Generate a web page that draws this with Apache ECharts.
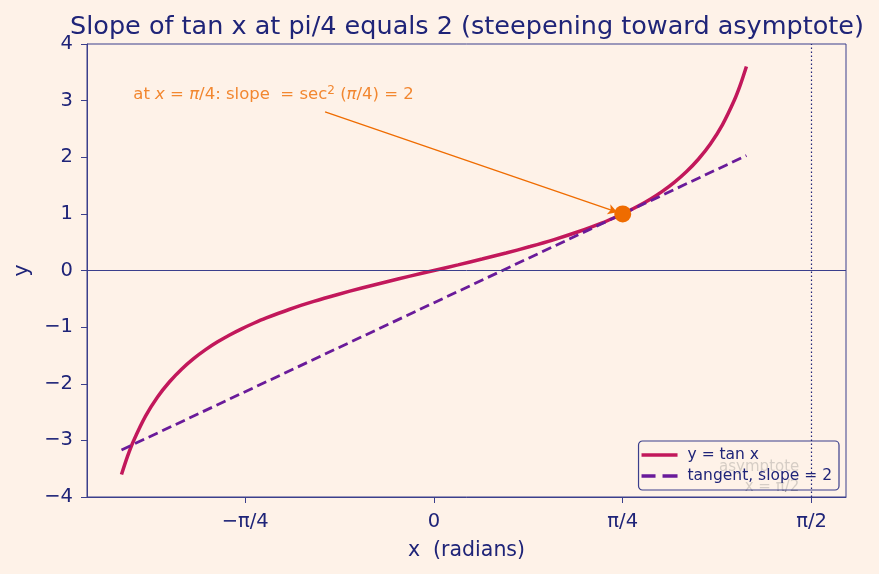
<!DOCTYPE html>
<html><head><meta charset="utf-8">
<script src="https://cdn.jsdelivr.net/npm/echarts@6/dist/echarts.min.js"></script>
<style>html,body{margin:0;padding:0;background:#fef2e8;}#c{width:879px;height:574px;}</style>
</head><body><div id="c"></div>
<script>
// tan x curve samples (x in radians, y = tan x)
const curveX = [-1.30,-1.275,-1.25,-1.20,-1.15,-1.10,-1.05,-1.00,-0.95,-0.90,-0.85,-0.80,-0.75,-0.70,-0.60,-0.50,-0.40,-0.30,-0.20,-0.10,0.00,0.10,0.20,0.30,0.40,0.50,0.60,0.70,0.75,0.80,0.85,0.90,0.95,1.00,1.05,1.10,1.15,1.20,1.25,1.275,1.30];
const curveY = [-3.602,-3.282,-3.010,-2.572,-2.234,-1.965,-1.743,-1.557,-1.398,-1.260,-1.138,-1.030,-0.932,-0.842,-0.684,-0.546,-0.423,-0.309,-0.203,-0.100,0.000,0.100,0.203,0.309,0.423,0.546,0.684,0.842,0.932,1.030,1.138,1.260,1.398,1.557,1.743,1.965,2.234,2.572,3.010,3.282,3.602];
// tangent line endpoints
const tangentX = [-1.30, 1.30];
const tangentY = [-3.170, 2.030];
// point of tangency
const pointX = [0.7854];
const pointY = [1.0];
// x tick values and labels
const xTickValues = [-0.7854, 0, 0.7854, 1.5708];
const xTickLabels = ['\u2212\u03c0/4', '0', '\u03c0/4', '\u03c0/2'];
const asymptoteX = 1.5708;

const navy = '#1f2478';
const axisCol = '#3b3f8c';
const font = 'DejaVu Sans';

const chart = echarts.init(document.getElementById('c'), null, {renderer:'canvas'});
const zip = (a,b) => a.map((v,i)=>[v,b[i]]);

chart.setOption({
  backgroundColor: '#fef2e8',
  animation: false,
  title: {
    text: 'Slope of tan x at pi/4 equals 2 (steepening toward asymptote)',
    left: 462, top: 9, textAlign: 'center',
    textStyle: {color: navy, fontFamily: font, fontSize: 25.5, fontWeight: 'normal'}
  },
  grid: {left: 87, right: 33, top: 44, bottom: 77, show: true, borderColor: axisCol, borderWidth: 1, backgroundColor: 'transparent'},
  xAxis: {
    type: 'value', min: -1.4435, max: 1.7143,
    name: 'x  (radians)', nameLocation: 'middle', nameGap: 43,
    nameTextStyle: {color: navy, fontFamily: font, fontSize: 20.5},
    axisLine: {show: true, onZero: false, lineStyle: {color: axisCol}},
    splitLine: {show: false},
    axisTick: {show: true, length: 6, customValues: xTickValues, lineStyle: {color: axisCol}},
    axisLabel: {customValues: xTickValues, color: navy, fontFamily: font, fontSize: 19.5, margin: 15,
      formatter: v => { const i = xTickValues.findIndex(t => Math.abs(t - v) < 1e-3); return i >= 0 ? xTickLabels[i] : ''; }}
  },
  yAxis: {
    type: 'value', min: -4, max: 4, interval: 1,
    name: 'y', nameLocation: 'middle', nameGap: 49,
    nameTextStyle: {color: navy, fontFamily: font, fontSize: 20.5},
    axisLine: {show: true, onZero: false, lineStyle: {color: axisCol}},
    splitLine: {show: false},
    axisTick: {show: true, length: 6, lineStyle: {color: axisCol}},
    axisLabel: {color: navy, fontFamily: font, fontSize: 19.5, margin: 14,
      formatter: v => (v < 0 ? '\u2212' + Math.abs(v) : String(v))}
  },
  legend: {
    orient: 'vertical', right: 40, bottom: 84,
    data: [
      {name: 'y = tan x', icon: 'path://M0,0H36V3.5H0Z'},
      {name: 'tangent, slope = 2', icon: 'path://M0,0H14V3.5H0Z M21,0H36V3.5H21Z'}
    ],
    itemWidth: 36, itemHeight: 3.5, itemGap: 5,
    padding: [6, 7, 6, 3],
    borderColor: axisCol, borderWidth: 1.2, borderRadius: 4,
    backgroundColor: 'rgba(254,242,232,0.55)',
    textStyle: {color: navy, fontFamily: font, fontSize: 15.5, padding: [0,0,0,5]}
  },
  series: [
    {
      name: 'asymptoteLine', type: 'line', data: [], silent: true,
      markLine: {
        silent: true, symbol: ['none','none'], label: {show: false},
        lineStyle: {color: navy, type: [1.5, 2.5], width: 1.2},
        data: [[{coord: [asymptoteX, -4]}, {coord: [asymptoteX, 4]}]]
      }
    },
    {
      name: 'zeroLine', type: 'line', data: [], silent: true,
      markLine: {
        silent: true, symbol: ['none','none'], label: {show: false},
        lineStyle: {color: axisCol, type: 'solid', width: 1},
        data: [[{coord: [-1.4435, 0]}, {coord: [1.7143, 0]}]]
      }
    },
    {
      name: 'asymptoteText', type: 'scatter', symbolSize: 0, silent: true, z: 1,
      data: [[1.52, -3.65]],
      label: {show: true, position: 'left', distance: 0, formatter: 'asymptote\nx = \u03c0/2', align: 'right',
        color: '#908c8a', fontFamily: font, fontSize: 15, lineHeight: 20}
    },
    {
      name: 'y = tan x', type: 'line', smooth: 0.3, symbol: 'none', z: 3,
      data: zip(curveX, curveY),
      lineStyle: {color: '#c2185b', width: 3.5},
      itemStyle: {color: '#c2185b'}
    },
    {
      name: 'tangent, slope = 2', type: 'line', symbol: 'none', z: 4,
      data: zip(tangentX, tangentY),
      lineStyle: {color: '#6a1b9a', width: 2.8, type: [10, 5]},
      itemStyle: {color: '#6a1b9a'}
    },
    {
      name: 'annotation', type: 'line', data: [], silent: true,
      markLine: {
        silent: true, symbol: ['none','arrow'], symbolSize: [8, 9], label: {show: false},
        lineStyle: {color: '#ef6c00', type: 'solid', width: 1.3},
        data: [[{coord: [-0.453, 2.80]}, {coord: [0.762, 1.03]}]]
      }
    },
    {
      name: 'point', type: 'scatter', symbolSize: 17, z: 6,
      data: zip(pointX, pointY),
      itemStyle: {color: '#ef6c00', opacity: 1}
    },
    {
      name: 'annotText', type: 'scatter', symbolSize: 0, silent: true, z: 6,
      data: [[-1.251, 3.10]],
      label: {show: true, position: 'right', distance: 0,
        formatter: 'at {i|x} = {i|\u03c0}/4: slope  = sec{s|2} ({i|\u03c0}/4) = 2',
        color: '#ef6c00', fontFamily: font, fontSize: 16.5,
        rich: {
          i: {fontStyle: 'italic', color: '#ef6c00', fontFamily: font, fontSize: 16.5},
          s: {color: '#ef6c00', fontFamily: font, fontSize: 12, verticalAlign: 'top', padding: [0,0,8,0]}
        }}
    }
  ]
});
</script></body></html>
